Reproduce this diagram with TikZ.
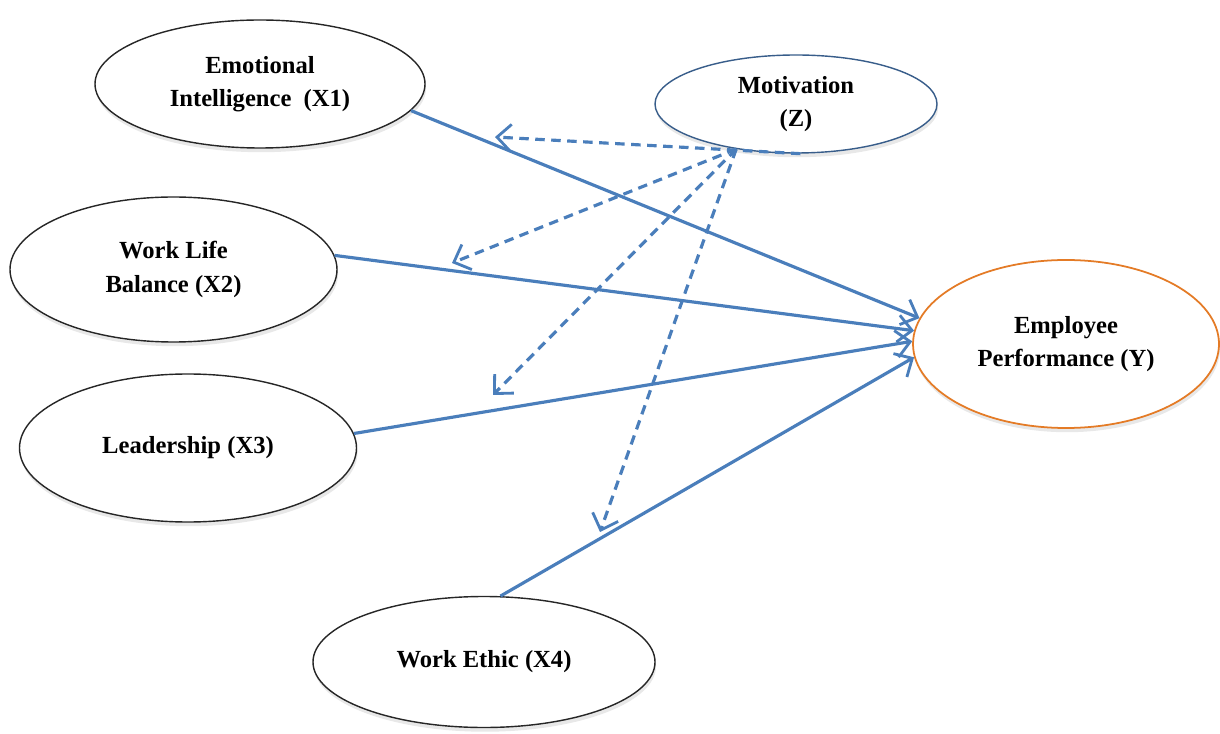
\documentclass[tikz,border=0pt]{standalone}
\usepackage{fontspec}
\setmainfont{Liberation Serif}
\usepackage{tikz}
\usetikzlibrary{shapes.geometric,arrows.meta,shadows}
\definecolor{pathBlue}{RGB}{74,126,187}
\definecolor{zBlue}{RGB}{56,93,138}
\definecolor{yOrange}{RGB}{228,123,38}
\pgfdeclareradialshading{latentshade}{\pgfpoint{0bp}{0bp}}{color(0bp)=(white); color(36bp)=(white); color(50bp)=(gray!28); color(100bp)=(gray!28)}
\tikzset{
  latent/.style={draw=black!85,ellipse,line width=0.8pt,inner sep=0pt,
                 font=\fontsize{14}{19}\selectfont\bfseries,align=center,
                 shading=latentshade,
                 drop shadow={opacity=0.18,shadow xshift=0.6pt,shadow yshift=-2.4pt}},
  arr/.style={-{Straight Barb[length=2.8mm,width=5.4mm,line width=1.6pt]},line width=1.8pt,pathBlue},
  darr/.style={-{Straight Barb[length=2.8mm,width=5.4mm,line width=1.6pt]},line width=1.8pt,pathBlue,
               dash pattern=on 1.9mm off 1.3mm},
}

\begin{document}
\begin{tikzpicture}
  \useasboundingbox (0,0) rectangle (24.4,14.66);
  % constructs
  \node[latent,minimum width=6.60cm,minimum height=2.56cm] (x1) at (5.20,12.98) {Emotional\\Intelligence~ (X1)};
  \node[latent,minimum width=6.54cm,minimum height=2.90cm] (x2) at (3.47,9.27) {Work Life\\Balance (X2)};
  \node[latent,minimum width=6.74cm,minimum height=2.96cm] (x3) at (3.76,5.70) {Leadership (X3)};
  \node[latent,minimum width=6.84cm,minimum height=2.62cm] (x4) at (9.68,1.42) {Work Ethic (X4)};
  \node[latent,draw=zBlue,minimum width=5.64cm,minimum height=1.96cm] (z) at (15.92,12.58) {Motivation\\(Z)};
  \node[latent,draw=yOrange,line width=1pt,minimum width=6.12cm,minimum height=3.36cm] (y) at (21.32,7.78) {Employee\\Performance (Y)};
  % moderation targets
  \coordinate (m1) at (9.90,11.92);
  \coordinate (m2) at (9.04,9.40);
  \coordinate (m3) at (9.86,6.76);
  \coordinate (m4) at (12.00,4.02);
  % direct paths
  \draw[arr] (x1.350) -- (y.170);
  \draw[arr] (x2.5) -- (y.175);
  \draw[arr] (x3.5) -- (y.179);
  \draw[arr] (x4.76) -- (y.185);
  % moderating paths
  \draw[darr] (z.275) -- (m1);
  \draw[darr] (z.217) -- (m2);
  \draw[darr] (z.217) -- (m3);
  \draw[darr] (z.217) -- (m4);
\end{tikzpicture}
\end{document}
